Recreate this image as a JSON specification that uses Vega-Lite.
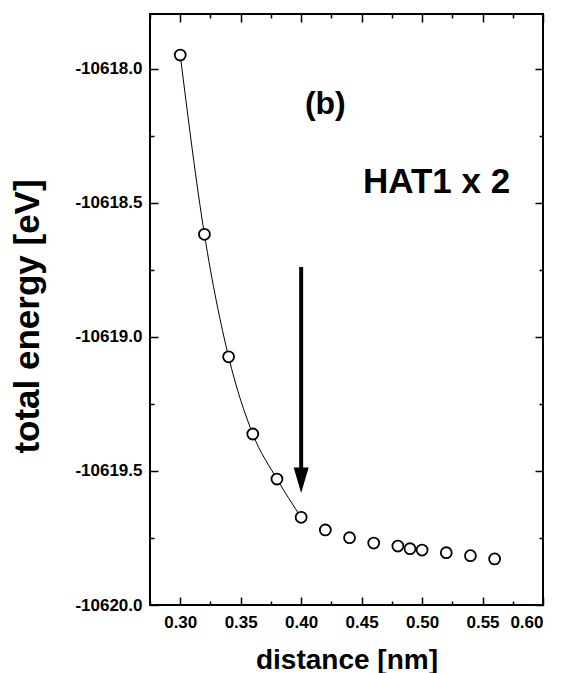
{
  "$schema": "https://vega.github.io/schema/vega-lite/v6.json",
  "width": 393,
  "height": 591,
  "autosize": {"type": "none"},
  "padding": {"left": 150, "top": 14, "right": 20, "bottom": 68},
  "background": "white",
  "config": {
    "view": {"stroke": "black", "strokeWidth": 2},
    "font": "Liberation Sans",
    "axis": {
      "grid": false,
      "domain": false,
      "tickColor": "black",
      "tickWidth": 1.5,
      "labelFont": "Liberation Sans",
      "labelFontWeight": "bold",
      "labelFontSize": 17,
      "labelColor": "black",
      "titleFont": "Liberation Sans",
      "titleFontWeight": "bold",
      "titleFontSize": 28,
      "titleColor": "black"
    }
  },
  "datasets": {
    "pts": [
      {"d": 0.30, "e": -10617.948},
      {"d": 0.32, "e": -10618.617},
      {"d": 0.34, "e": -10619.074},
      {"d": 0.36, "e": -10619.362},
      {"d": 0.38, "e": -10619.53},
      {"d": 0.40, "e": -10619.673},
      {"d": 0.42, "e": -10619.72},
      {"d": 0.44, "e": -10619.749},
      {"d": 0.46, "e": -10619.769},
      {"d": 0.48, "e": -10619.78},
      {"d": 0.49, "e": -10619.79},
      {"d": 0.50, "e": -10619.795},
      {"d": 0.52, "e": -10619.805},
      {"d": 0.54, "e": -10619.816},
      {"d": 0.56, "e": -10619.828}
    ],
    "curve": [
      {"d": 0.30, "e": -10617.948},
      {"d": 0.32, "e": -10618.617},
      {"d": 0.34, "e": -10619.074},
      {"d": 0.36, "e": -10619.362},
      {"d": 0.38, "e": -10619.53},
      {"d": 0.40, "e": -10619.673}
    ],
    "arrow": [
      {"d": 0.40, "top": -10618.739, "bot": -10619.50, "head": -10619.535}
    ],
    "labels": [
      {"d": 0.42, "e": -10618.13, "t": "(b)", "s": "b"},
      {"d": 0.512, "e": -10618.42, "t": "HAT1 x 2", "s": "h"}
    ]
  },
  "resolve": {"axis": {"x": "independent", "y": "independent"}},
  "layer": [
    {
      "data": {"name": "curve"},
      "mark": {"type": "line", "color": "black", "strokeWidth": 1, "interpolate": "monotone"},
      "encoding": {
        "x": {
          "field": "d", "type": "quantitative",
          "scale": {"domain": [0.275, 0.6], "nice": false, "zero": false},
          "axis": {
            "orient": "bottom",
            "title": "distance [nm]",
            "values": [0.30, 0.35, 0.40, 0.45, 0.50, 0.55, 0.60],
            "format": ".2f",
            "ticks": false,
            "labelPadding": 9,
            "titlePadding": 16
          }
        },
        "y": {
          "field": "e", "type": "quantitative",
          "scale": {"domain": [-10620, -10617.795], "nice": false, "zero": false},
          "axis": {
            "orient": "left",
            "title": "total energy [eV]",
            "titleFontSize": 35,
            "titleY": 302,
            "values": [-10620, -10619.5, -10619, -10618.5, -10618],
            "labelExpr": "'-' + format(-datum.value, '.1f')",
            "ticks": false,
            "labelPadding": 8,
            "titlePadding": 29
          }
        }
      }
    },
    {
      "data": {"name": "pts"},
      "mark": {"type": "point", "shape": "circle", "filled": true, "fill": "white", "stroke": "black", "strokeWidth": 1.8, "size": 120, "opacity": 1},
      "encoding": {
        "x": {
          "field": "d", "type": "quantitative",
          "axis": {"orient": "top", "title": null, "labels": false, "values": [0.30, 0.35, 0.40, 0.45, 0.50, 0.55, 0.60], "tickSize": -8}
        },
        "y": {
          "field": "e", "type": "quantitative",
          "axis": {"orient": "right", "title": null, "labels": false, "values": [-10620, -10619.5, -10619, -10618.5, -10618], "tickSize": -8}
        }
      }
    },
    {
      "data": {"name": "arrow"},
      "mark": {"type": "rule", "color": "black", "strokeWidth": 4},
      "encoding": {
        "x": {
          "field": "d", "type": "quantitative",
          "axis": {"orient": "bottom", "title": null, "labels": false, "values": [0.275, 0.325, 0.375, 0.425, 0.475, 0.525, 0.575], "tickSize": -4}
        },
        "y": {
          "field": "top", "type": "quantitative",
          "axis": {"orient": "left", "title": null, "labels": false, "values": [-10619.75, -10619.25, -10618.75, -10618.25], "tickSize": -4}
        },
        "y2": {"field": "bot"}
      }
    },
    {
      "data": {"name": "arrow"},
      "mark": {"type": "point", "shape": "M-1,-1.7L1,-1.7L0,1.7Z", "filled": true, "color": "black", "size": 225, "opacity": 1},
      "encoding": {
        "x": {
          "field": "d", "type": "quantitative",
          "axis": {"orient": "top", "title": null, "labels": false, "values": [0.275, 0.325, 0.375, 0.425, 0.475, 0.525, 0.575], "tickSize": -4}
        },
        "y": {
          "field": "head", "type": "quantitative",
          "axis": {"orient": "right", "title": null, "labels": false, "values": [-10619.75, -10619.25, -10618.75, -10618.25], "tickSize": -4}
        }
      }
    },
    {
      "data": {"name": "labels"},
      "transform": [{"filter": "datum.s == 'b'"}],
      "mark": {"type": "text", "font": "Liberation Sans", "fontWeight": "bold", "fontSize": 32, "color": "black", "align": "center", "baseline": "middle"},
      "encoding": {
        "x": {
          "field": "d", "type": "quantitative",
          "axis": {"orient": "bottom", "title": null, "labels": false, "values": [0.30, 0.35, 0.40, 0.45, 0.50, 0.55, 0.60], "tickSize": -8}
        },
        "y": {
          "field": "e", "type": "quantitative",
          "axis": {"orient": "left", "title": null, "labels": false, "values": [-10620, -10619.5, -10619, -10618.5, -10618], "tickSize": -8}
        },
        "text": {"field": "t"}
      }
    },
    {
      "data": {"name": "labels"},
      "transform": [{"filter": "datum.s == 'h'"}],
      "mark": {"type": "text", "font": "Liberation Sans", "fontWeight": "bold", "fontSize": 35, "color": "black", "align": "center", "baseline": "middle"},
      "encoding": {
        "x": {"field": "d", "type": "quantitative", "axis": null},
        "y": {"field": "e", "type": "quantitative", "axis": null},
        "text": {"field": "t"}
      }
    }
  ]
}
